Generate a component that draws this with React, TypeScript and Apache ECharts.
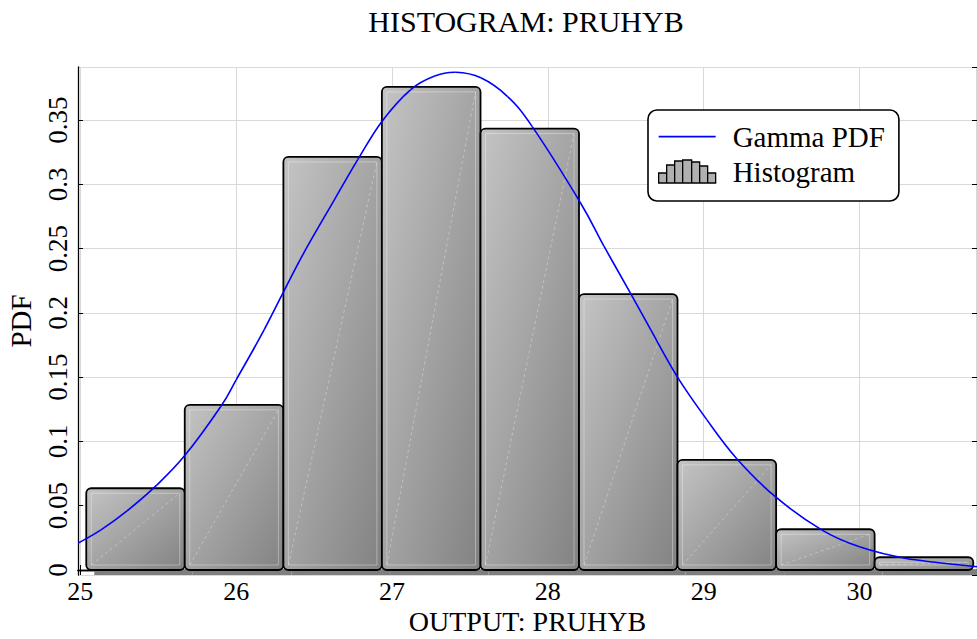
import React, { useEffect, useRef } from "react";
import * as echarts from "echarts";

// Histogram bins (density) of PRUHYB output
const binEdges = [25.038, 25.67, 26.303, 26.935, 27.568, 28.2, 28.832, 29.465, 30.097, 30.73];
const binDensity = [0.0636, 0.1285, 0.3214, 0.3759, 0.3435, 0.2147, 0.0857, 0.0317, 0.0099];

// Fitted gamma PDF, sampled points
const pdfX = [
  24.985, 25.13, 25.3, 25.49, 25.67, 25.9, 26.0, 26.18, 26.41, 26.63, 26.78, 26.935, 27.12, 27.27,
  27.41, 27.57, 27.74, 27.9, 28.21, 28.36, 28.53, 28.66, 28.83, 29.02, 29.21, 29.46, 29.76, 30.0,
  30.3, 30.754,
];
const pdfY = [
  0.0208, 0.031, 0.046, 0.066, 0.089, 0.127, 0.148, 0.187, 0.2414, 0.288, 0.3193, 0.349, 0.3738,
  0.3842, 0.3873, 0.383, 0.3686, 0.345, 0.2856, 0.252, 0.2155, 0.187, 0.1505, 0.117, 0.087, 0.057,
  0.031, 0.018, 0.009, 0.0025,
];

const xRange = [24.985, 30.754];
const yRange = [-0.0039, 0.3914];

const FONT = "'Liberation Serif', 'Times New Roman', serif";

// legend glyphs (path bounding box = 57 x 23)
const lineIcon = "path://M0,0L0.01,0Z M0,10.8H57V12.4H0Z M0,23L0.01,23Z";
const histIcon =
  "path://M0,23V13H8V23Z M8,23V5H16V23Z M16,23V1H24V23Z M24,23V0H33V23Z M33,23V2H41V23Z M41,23V6H49V23Z M49,23V13H57V23Z";

export default function App() {
  const ref = useRef<HTMLDivElement>(null);

  useEffect(() => {
    if (!ref.current) return;
    const chart = echarts.init(ref.current, null, { renderer: "svg" });

    const barData = binDensity.map((d, i) => [binEdges[i], binEdges[i + 1], d]);
    const lineData = pdfX.map((x, i) => [x, pdfY[i]]);

    const renderBar = (params: any, api: any) => {
      const x0 = api.value(0);
      const x1 = api.value(1);
      const h = api.value(2);
      const pTop = api.coord([x0, h]);
      const pBot = api.coord([x1, 0]);
      const left = pTop[0];
      const top = pTop[1];
      const right = pBot[0];
      const bottom = pBot[1];
      const w = right - left;
      const ht = bottom - top;
      return {
        type: "group",
        children: [
          {
            type: "rect",
            shape: { x: left + 8, y: bottom, width: w, height: 5 },
            style: { fill: "#7f7f7f" },
            silent: true,
          },
          {
            type: "rect",
            shape: { x: left, y: top, width: w, height: ht, r: 5 },
            style: {
              fill: new echarts.graphic.LinearGradient(0, 0, 1, 1, [
                { offset: 0, color: "#c4c4c4" },
                { offset: 1, color: "#828282" },
              ]),
              stroke: "#000",
              lineWidth: 1.8,
            },
          },
          {
            type: "rect",
            shape: { x: left + 5, y: top + 5, width: Math.max(w - 10, 0), height: Math.max(ht - 10, 0) },
            style: { fill: "none", stroke: "rgba(255,255,255,0.35)", lineWidth: 1 },
            silent: true,
          },
          {
            type: "line",
            shape: { x1: left + 5, y1: bottom - 5, x2: right - 5, y2: top + 5 },
            style: { stroke: "rgba(255,255,255,0.4)", lineWidth: 0.8, lineDash: [3, 3] },
            silent: true,
          },
        ],
      };
    };

    // PDF curve: one Catmull-Rom segment per sample, mapped through the axes
    const renderCurve = (params: any, api: any) => {
      const i = params.dataIndex;
      const n = lineData.length;
      if (i >= n - 1) return { type: "group", children: [] };
      const p = (k: number) => api.coord(lineData[Math.max(0, Math.min(n - 1, k))]);
      const p0 = p(i - 1);
      const p1 = p(i);
      const p2 = p(i + 1);
      const p3 = p(i + 2);
      return {
        type: "bezierCurve",
        shape: {
          x1: p1[0],
          y1: p1[1],
          x2: p2[0],
          y2: p2[1],
          cpx1: p1[0] + (p2[0] - p0[0]) / 6,
          cpy1: p1[1] + (p2[1] - p0[1]) / 6,
          cpx2: p2[0] - (p3[0] - p1[0]) / 6,
          cpy2: p2[1] - (p3[1] - p1[1]) / 6,
        },
        style: { fill: "none", stroke: "#0000ff", lineWidth: 1.6 },
        silent: true,
      };
    };

    const option: any = {
      animation: false,
      backgroundColor: "#fff",
      textStyle: { fontFamily: FONT, color: "#000" },
      title: {
        text: "HISTOGRAM: PRUHYB",
        left: 521,
        top: 1,
        textAlign: "center",
        textStyle: { fontFamily: FONT, fontSize: 30, fontWeight: "normal", color: "#000" },
      },
      legend: {
        orient: "vertical",
        left: 648,
        top: 110,
        padding: [12, 14, 15, 10],
        itemGap: 6,
        itemWidth: 57,
        itemHeight: 23,
        backgroundColor: "#fff",
        borderColor: "#000",
        borderWidth: 1.6,
        borderRadius: 9,
        textStyle: { fontFamily: FONT, fontSize: 29, color: "#000", padding: [0, 0, 0, 12] },
        data: [
          { name: "Gamma PDF", icon: lineIcon, itemStyle: { color: "#0000ff", borderWidth: 0 } },
          {
            name: "Histogram",
            icon: histIcon,
            itemStyle: { color: "#b0b0b0", borderColor: "#000", borderWidth: 1.3 },
          },
        ],
      },
      grid: {
        left: 78,
        right: 0,
        top: 67,
        bottom: 64,
        containLabel: false,
        outerBoundsMode: "none",
      },
      xAxis: [
        {
          type: "value",
          min: xRange[0],
          max: xRange[1],
          splitNumber: 6,
          name: "OUTPUT: PRUHYB",
          nameLocation: "middle",
          nameGap: 32,
          nameMoveOverlap: false,
          nameTextStyle: { fontFamily: FONT, fontSize: 28, lineHeight: 28, color: "#000" },
          axisLine: { show: true, lineStyle: { color: "#000", width: 1.3 } },
          axisTick: { show: true, inside: true, length: 5, lineStyle: { color: "#000" } },
          axisLabel: {
            fontFamily: FONT,
            fontSize: 26,
            lineHeight: 26,
            color: "#000",
            margin: 3,
            showMinLabel: false,
            showMaxLabel: false,
          },
          splitLine: { show: true, lineStyle: { color: "#d9d9d9", width: 1 } },
        },
        {
          type: "value",
          position: "top",
          min: xRange[0],
          max: xRange[1],
          splitNumber: 6,
          axisLine: { show: true, lineStyle: { color: "#000", width: 1.3 } },
          axisTick: { show: true, inside: true, length: 5, lineStyle: { color: "#000" } },
          axisLabel: { show: false },
          splitLine: { show: false },
        },
      ],
      yAxis: [
        {
          type: "value",
          min: yRange[0],
          max: yRange[1],
          splitNumber: 8,
          name: "PDF",
          nameLocation: "middle",
          nameGap: 43,
          nameRotate: 90,
          nameTextStyle: { fontFamily: FONT, fontSize: 29, color: "#000" },
          axisLine: { show: true, lineStyle: { color: "#000", width: 1.3 } },
          axisTick: { show: true, inside: true, length: 5, lineStyle: { color: "#000" } },
          axisLabel: {
            fontFamily: FONT,
            fontSize: 27,
            color: "#000",
            rotate: 90,
            margin: 7,
            showMinLabel: false,
            showMaxLabel: false,
          },
          splitLine: { show: true, lineStyle: { color: "#d9d9d9", width: 1 } },
        },
        {
          type: "value",
          position: "right",
          min: yRange[0],
          max: yRange[1],
          splitNumber: 8,
          axisLine: { show: true, lineStyle: { color: "#000", width: 1.3 } },
          axisTick: { show: true, inside: true, length: 5, lineStyle: { color: "#000" } },
          axisLabel: { show: false },
          splitLine: { show: false },
        },
      ],
      series: [
        {
          name: "Histogram",
          type: "custom",
          renderItem: renderBar,
          data: barData,
          encode: { x: [0, 1], y: 2 },
          clip: true,
          z: 2,
        },
        {
          name: "Gamma PDF",
          type: "custom",
          renderItem: renderCurve,
          data: lineData,
          encode: { x: 0, y: 1 },
          itemStyle: { color: "#0000ff" },
          clip: true,
          z: 3,
        },
      ],
    };

    chart.setOption(option);
    return () => chart.dispose();
  }, []);

  return (
    <div
      ref={ref}
      style={{ position: "fixed", left: 0, top: 0, width: 977, height: 639, background: "#fff" }}
    />
  );
}
